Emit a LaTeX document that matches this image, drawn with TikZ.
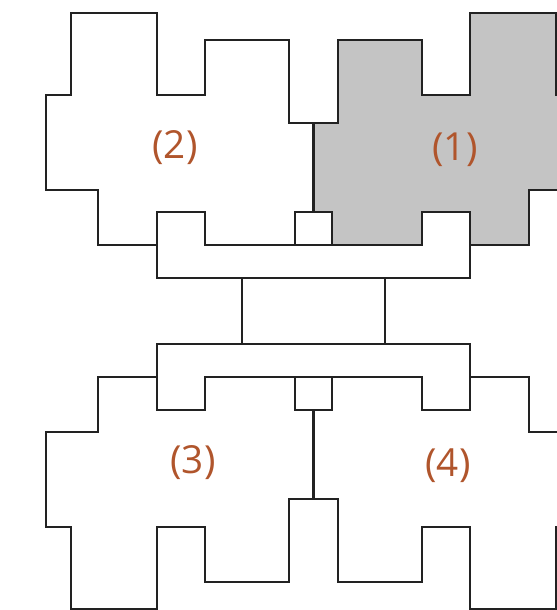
\documentclass[tikz,border=0pt]{standalone}
\usepackage{fontspec}
\setsansfont{Open Sans}
\definecolor{WallInk}{HTML}{222222}
\definecolor{ZoneGrey}{HTML}{C4C4C4}
\definecolor{LabelRust}{HTML}{B0552C}

% outline of one quarter (the top-left wing), mirrored for the others
\newcommand{\wingpath}{(0,188) -- (-24.5,188) -- (-24.5,271) -- (-108.5,271) -- (-108.5,216) -- (-156.5,216) -- (-156.5,298) -- (-242.5,298) -- (-242.5,216) -- (-267.5,216) -- (-267.5,121) -- (-215.5,121) -- (-215.5,66) -- (-156.5,66) -- (-156.5,99) -- (-108.5,99) -- (-108.5,66) -- (-18.5,66) -- (-18.5,99) -- (0,99) -- cycle}

\begin{document}
\begin{tikzpicture}[
	x=0.2mm, y=0.2mm,
	wall/.style={draw=WallInk, line width=1.6pt, line join=miter},
	zone/.style={fill=ZoneGrey},
	tag/.style={font=\sffamily\fontsize{22}{26}\selectfont, text=LabelRust, inner sep=0pt}
]
\useasboundingbox (-313.5,-299) rectangle (243.5,311);
\clip (-313.5,-299) rectangle (243.5,311);

% grey zone (1)
\fill[zone, xscale=-1] \wingpath;

% walls of the four wings and the corridors
\foreach \sx/\sy in {1/1,-1/1,1/-1,-1/-1}{
	\begin{scope}[xscale=\sx, yscale=\sy]
		\draw[wall] \wingpath;
		\draw[wall] (-156.5,66) -- (-156.5,33) -- (0,33);
		\draw[wall] (-71.5,33) -- (-71.5,0);
		\draw[wall] (-18.5,66) -- (0,66);
	\end{scope}
}

\node[tag] (wingone) at (141.5,161) {(1)};
\node[tag] (wingtwo) at (-138.5,163) {(2)};
\node[tag] (wingthree) at (-120.5,-152) {(3)};
\node[tag] (wingfour) at (134.5,-155) {(4)};
\end{tikzpicture}
\end{document}
